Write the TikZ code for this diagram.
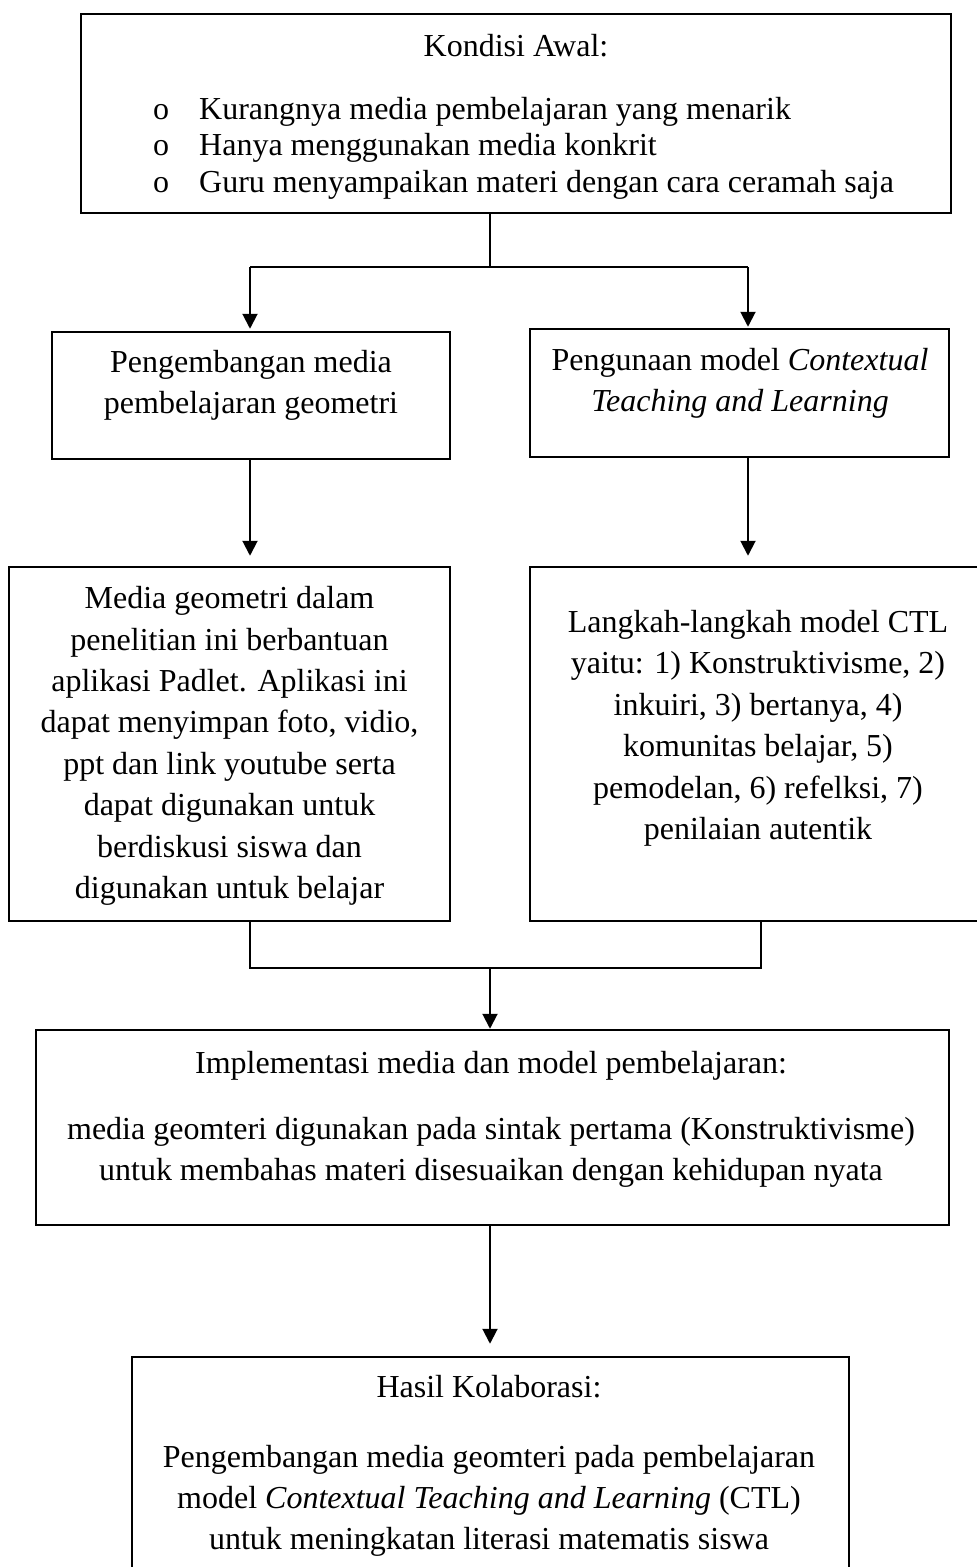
\documentclass[tikz,border=0pt]{standalone}
\usepackage{fontspec}
\setmainfont{Liberation Serif}
\usetikzlibrary{arrows.meta}
\begin{document}
\begin{tikzpicture}[x=1pt,y=-1pt,
  box/.style={draw,line width=2.5pt,rectangle,inner sep=0pt},
  conn/.style={line width=2pt},
  arr/.style={conn,-{Triangle[length=15pt,width=15pt]}},
  txt/.style={align=center,inner sep=0pt,anchor=base,font=\fontsize{32}{41.4}\selectfont},
  lst/.style={align=left,inner sep=0pt,anchor=base west,font=\fontsize{32}{36.8}\selectfont},
]
\useasboundingbox (0,0) rectangle (977,1567);
\clip (0,0) rectangle (977,1567);
\fill[white] (0,0) rectangle (977,1567);

% boxes
\node[box,minimum width=870pt,minimum height=199pt] (top) at (516,113.5) {};
\node[box,minimum width=398pt,minimum height=127pt] (L1) at (251,395.5) {};
\node[box,minimum width=419pt,minimum height=128pt] (R1) at (739.5,393) {};
\node[box,minimum width=441pt,minimum height=354pt] (L2) at (229.5,744) {};
\node[box,minimum width=460pt,minimum height=354pt] (R2) at (760,744) {};
\node[box,minimum width=913pt,minimum height=195pt] (imp) at (492.5,1127.5) {};
\node[box,minimum width=717pt,minimum height=250pt] (res) at (490.5,1482) {};

% texts (multi-line nodes are placed by the baseline of their last line)
\node[txt] (topT) at (516,56) {Kondisi Awal:};
\node[lst] (topB) at (153,192.6) {o\\o\\o};
\node[lst] (topL) at (199,192.6) {Kurangnya media pembelajaran yang menarik\\Hanya menggunakan media konkrit\\Guru menyampaikan materi dengan cara ceramah saja};
\node[txt] (L1T) at (251,413.4) {Pengembangan media\\pembelajaran geometri};
\node[txt] (R1T) at (740,411.5) {Pengunaan model \textit{Contextual}\\\textit{Teaching and Learning}};
\node[txt] (L2T) at (229.5,898.5) {Media geometri dalam\\penelitian ini berbantuan\\aplikasi Padlet. Aplikasi ini\\dapat menyimpan foto, vidio,\\ppt dan link youtube serta\\dapat digunakan untuk\\berdiskusi siswa dan\\digunakan untuk belajar};
\node[txt] (R2T) at (758,839.5) {Langkah-langkah model CTL\\yaitu: 1) Konstruktivisme, 2)\\inkuiri, 3) bertanya, 4)\\komunitas belajar, 5)\\pemodelan, 6) refelksi, 7)\\penilaian autentik};
\node[txt] (impT) at (491,1073) {Implementasi media dan model pembelajaran:};
\node[txt] (impB) at (491,1180.4) {media geomteri digunakan pada sintak pertama (Konstruktivisme)\\untuk membahas materi disesuaikan dengan kehidupan nyata};
\node[txt] (resT) at (489,1397) {Hasil Kolaborasi:};
\node[txt] (resB) at (489,1549.8) {Pengembangan media geomteri pada pembelajaran\\model \textit{Contextual Teaching and Learning} (CTL)\\untuk meningkatan literasi matematis siswa};

% connectors
\coordinate (j1) at (490,267);
\coordinate (sL) at (250,267);
\coordinate (sR) at (748,267);
\coordinate (mL) at (250,968);
\coordinate (mR) at (761,968);
\coordinate (j2) at (490,968);
\coordinate (j3) at (490,1225);

\draw[conn] (j1 |- top.south) -- (j1);
\draw[conn] (sL) -- (sR);
\draw[arr,shorten >=2pt] (sL) -- (sL |- L1.north);
\draw[arr,shorten >=1pt] (sR) -- (sR |- R1.north);
\draw[arr,shorten >=10pt] (sL |- L1.south) -- (sL |- L2.north);
\draw[arr,shorten >=10pt] (sR |- R1.south) -- (sR |- R2.north);
\draw[conn] (mL |- L2.south) -- (mL) -- (mR) -- (mR |- R2.south);
\draw[arr] (j2) -- (j2 |- imp.north);
\draw[arr,shorten >=12pt] (j3 |- imp.south) -- (j3 |- res.north);
\end{tikzpicture}
\end{document}
